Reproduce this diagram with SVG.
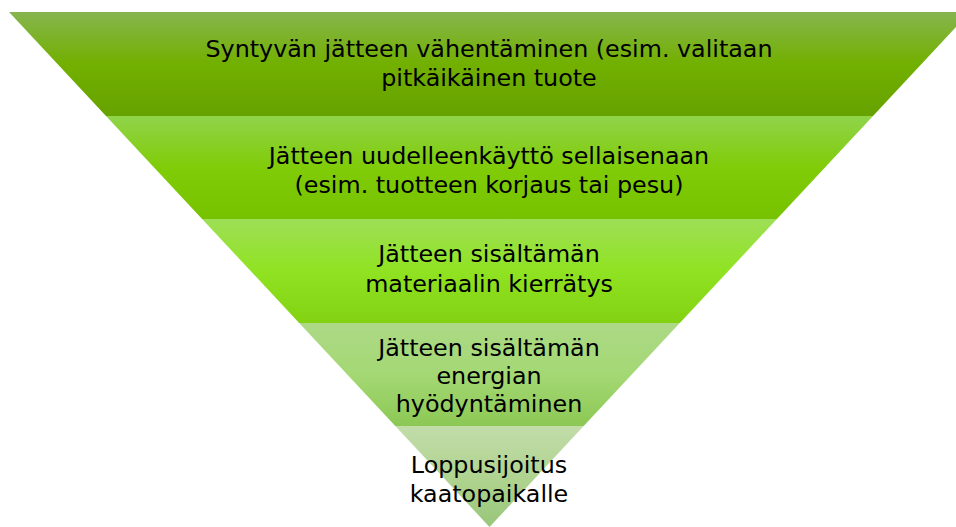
<svg xmlns="http://www.w3.org/2000/svg" width="956" height="527" viewBox="0 0 956 527">
<style>
.lbl{font-family:"DejaVu Sans",sans-serif;font-size:23.8px;fill:#000;text-anchor:middle}
</style>
<defs>
<linearGradient id="g1" x1="0" y1="0" x2="0" y2="1"><stop offset="0" stop-color="#86b54e"/><stop offset="0.5" stop-color="#72b000"/><stop offset="1" stop-color="#66a200"/></linearGradient>
<linearGradient id="g2" x1="0" y1="0" x2="0" y2="1"><stop offset="0" stop-color="#90d44a"/><stop offset="0.5" stop-color="#80cc08"/><stop offset="1" stop-color="#76c200"/></linearGradient>
<linearGradient id="g3" x1="0" y1="0" x2="0" y2="1"><stop offset="0" stop-color="#9edf56"/><stop offset="0.5" stop-color="#90e322"/><stop offset="1" stop-color="#82d212"/></linearGradient>
<linearGradient id="g4" x1="0" y1="0" x2="0" y2="1"><stop offset="0" stop-color="#acd986"/><stop offset="0.5" stop-color="#a4d874"/><stop offset="1" stop-color="#8cc854"/></linearGradient>
<linearGradient id="g5" x1="0" y1="0" x2="0" y2="1"><stop offset="0" stop-color="#c2dcaa"/><stop offset="0.5" stop-color="#b0d490"/><stop offset="1" stop-color="#98c67a"/></linearGradient>
</defs>
<g id="level1">
<polygon points="9,12 970,12 873,116 106,116" fill="url(#g1)"/>
<text class="lbl" x="489" y="57">Syntyvän jätteen vähentäminen (esim. valitaan</text>
<text class="lbl" x="489" y="86">pitkäikäinen tuote</text>
</g>
<g id="level2">
<polygon points="106,116 873,116 776.9,219 202.1,219" fill="url(#g2)"/>
<text class="lbl" x="489" y="164">Jätteen uudelleenkäyttö sellaisenaan</text>
<text class="lbl" x="489" y="193">(esim. tuotteen korjaus tai pesu)</text>
</g>
<g id="level3">
<polygon points="202.1,219 776.9,219 679.8,323 299.2,323" fill="url(#g3)"/>
<text class="lbl" x="489" y="262">Jätteen sisältämän</text>
<text class="lbl" x="489" y="292">materiaalin kierrätys</text>
</g>
<g id="level4">
<polygon points="299.2,323 679.8,323 583.7,426 395.3,426" fill="url(#g4)"/>
<text class="lbl" x="489" y="356">Jätteen sisältämän</text>
<text class="lbl" x="489" y="384">energian</text>
<text class="lbl" x="489" y="412">hyödyntäminen</text>
</g>
<g id="level5">
<polygon points="395.3,426 583.7,426 489.5,527" fill="url(#g5)"/>
<text class="lbl" x="489" y="473">Loppusijoitus</text>
<text class="lbl" x="489" y="502">kaatopaikalle</text>
</g>
<g id="connectors"/>
</svg>
